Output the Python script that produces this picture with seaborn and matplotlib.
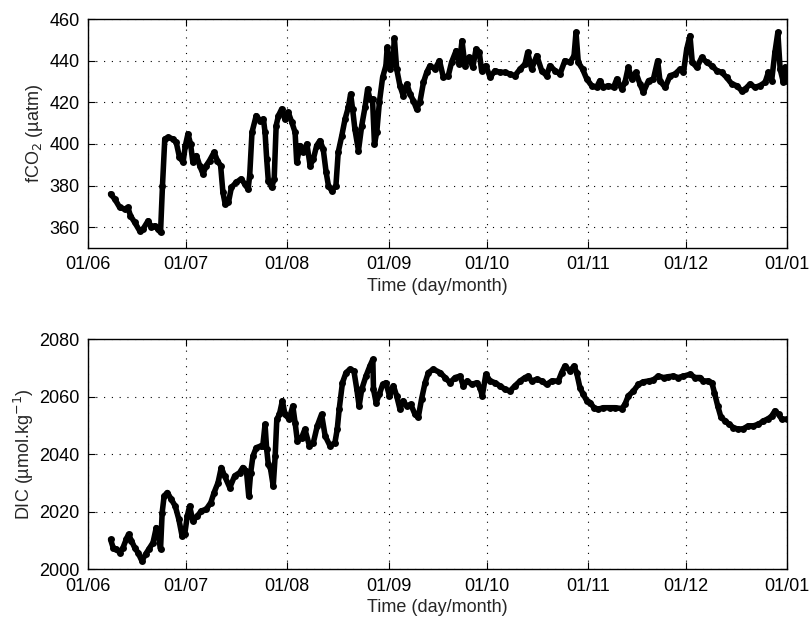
import numpy as np
import pandas as pd
import matplotlib
matplotlib.use("Agg")
import matplotlib.pyplot as plt
import matplotlib.dates as mdates
import seaborn as sns

# days since 1 June
fco2_days = [6.9, 8.2, 9.7, 11.2, 12.2, 13.0, 14.3, 15.8, 16.8, 18.4, 19.4, 20.4, 21.4, 22.2,
             22.8, 23.5, 24.5, 26.0, 27.0, 28.0, 29.1, 29.8, 30.6, 31.4, 32.1, 33.2, 34.2, 35.2,
             36.2, 37.2, 38.6, 39.6, 40.6, 41.3, 42.0, 43.0, 43.9, 45.4, 46.9, 48.0, 49.0, 49.5,
             50.2, 51.5, 52.7, 53.7, 54.2, 54.7, 55.2, 56.2, 57.0, 57.6, 58.3, 59.3, 60.3, 61.3,
             62.4, 63.4, 63.9, 64.9, 65.9, 67.0, 68.0, 69.0, 70.0, 71.0, 72.0, 72.9, 73.6, 74.6,
             75.9, 76.6, 77.7, 78.7, 79.7, 80.4, 81.0, 81.7, 82.8, 83.8, 84.8, 85.6, 86.3, 87.1,
             87.7, 88.4, 89.2, 90.2, 91.2, 91.6, 92.5, 93.3, 93.8, 94.5, 95.5, 96.5, 97.6, 98.6,
             99.6, 100.6, 101.6, 102.7, 103.7, 104.7, 106.2, 107.6, 108.8, 110.3, 111.3, 112.7,
             113.7, 114.5, 115.4, 116.7, 117.8, 118.8, 119.8, 120.5, 121.8, 123.1, 124.6, 126.1,
             127.7, 129.2, 130.7, 132.3, 133.8, 134.6, 135.8, 137.4, 138.9, 140.4, 141.4, 143.0,
             144.5, 146.0, 147.6, 148.8, 149.4, 150.1, 151.4, 152.7, 154.2, 155.7, 156.7, 157.8,
             159.3, 160.9, 161.9, 163.4, 164.4, 165.4, 166.5, 167.7, 169.0, 170.0, 171.6, 173.1,
             174.4, 175.1, 176.7, 178.2, 179.7, 181.3, 182.3, 183.3, 184.3, 185.0, 186.4, 187.9,
             189.4, 191.0, 192.5, 194.0, 195.5, 197.1, 198.6, 200.1, 201.2, 202.7, 204.2, 205.7,
             207.3, 208.3, 209.3, 210.3, 211.2, 211.9, 212.9, 213.4, 213.9]
fco2_vals = [376.0, 373.5, 369.5, 368.7, 369.5, 365.5, 362.3, 358.3, 359.0, 363.1, 360.0, 360.7, 359.0, 357.5,
             380.0, 402.4, 403.2, 402.4, 400.8, 393.6, 391.2, 399.2, 404.8, 400.0, 391.2, 394.4, 389.6, 385.6,
             389.6, 392.0, 396.0, 392.0, 389.6, 376.7, 371.1, 372.0, 379.1, 381.6, 383.2, 380.7, 378.3, 384.8,
             405.6, 413.6, 411.2, 412.0, 405.6, 392.8, 382.3, 379.1, 383.2, 408.8, 413.6, 416.8, 412.0, 415.2,
             410.4, 405.6, 391.2, 399.2, 396.0, 400.0, 389.6, 392.8, 399.2, 401.6, 397.6, 386.4, 380.0, 377.5,
             380.0, 396.0, 404.0, 412.0, 417.6, 424.0, 416.8, 407.2, 396.8, 408.8, 417.6, 426.4, 421.6, 421.6,
             400.0, 405.6, 420.0, 432.0, 437.6, 446.4, 436.0, 439.2, 450.7, 436.0, 428.0, 423.2, 428.8, 424.0,
             420.8, 416.8, 420.0, 429.6, 434.4, 437.6, 436.0, 440.0, 432.0, 432.8, 439.2, 444.8,
             438.4, 449.6, 437.6, 441.6, 436.8, 445.6, 444.0, 435.2, 437.6, 432.0, 435.2, 434.4,
             434.4, 433.6, 432.8, 436.0, 438.4, 444.0, 436.0, 442.4, 435.2, 432.8, 437.6, 435.2,
             433.6, 440.0, 439.2, 442.4, 453.6, 439.2, 436.0, 431.2, 428.0, 427.2, 430.4, 427.2,
             428.0, 427.2, 431.2, 426.4, 429.6, 436.8, 431.2, 434.4, 428.8, 424.8, 430.4, 431.2,
             440.0, 430.4, 427.2, 432.8, 433.6, 436.0, 434.4, 445.6, 452.0, 439.2, 436.8, 441.6,
             439.2, 437.6, 435.2, 434.4, 432.0, 428.8, 428.0, 425.6, 426.4, 428.8, 427.2, 428.0,
             429.6, 434.4, 430.4, 444.0, 453.6, 436.0, 429.6, 436.8, 430.4]

dic_days = [6.9, 7.7, 8.7, 9.7, 10.7, 11.7, 12.4, 13.3, 14.3, 15.3, 16.5, 17.6, 18.6, 19.9, 20.9,
            21.6, 22.2, 22.7, 23.3, 24.3, 25.5, 26.7, 27.8, 28.8, 29.6, 30.4, 31.1, 32.1, 33.5,
            34.7, 36.2, 37.6, 38.6, 39.8, 40.8, 41.8, 43.4, 44.9, 46.4, 47.4, 48.5, 49.2, 49.8,
            50.5, 51.5, 52.9, 53.5, 54.2, 54.7, 55.2, 55.9, 56.7, 57.3, 57.8, 58.6, 59.5, 60.3,
            61.6, 62.7, 63.4, 64.1, 65.4, 66.4, 67.8, 69.0, 70.2, 71.5, 72.6, 74.1, 75.6, 76.3,
            76.9, 77.9, 79.0, 80.2, 81.4, 82.3, 83.0, 83.8, 85.1, 86.3, 87.2, 87.4, 88.2, 89.2,
            90.2, 91.2, 92.3, 93.5, 94.5, 95.5, 96.5, 97.6, 98.8, 100.1, 101.1, 102.1, 103.2,
            104.2, 105.7, 107.8, 109.3, 110.8, 112.4, 113.9, 114.9, 116.1, 117.5, 119.0, 120.0,
            120.7, 121.8, 123.1, 124.6, 126.1, 127.7, 129.2, 130.7, 132.3, 133.8, 134.8, 135.8,
            137.4, 138.9, 140.4, 142.0, 144.0, 145.0, 146.0, 147.6, 148.8, 149.6, 150.6, 151.6,
            152.7, 153.7, 154.9, 156.2, 157.8, 159.8, 161.4, 163.4, 164.4, 165.4, 167.0, 168.5,
            170.0, 171.6, 173.1, 174.6, 176.2, 177.7, 179.2, 180.7, 182.3, 184.3, 185.9, 187.4,
            188.4, 189.9, 191.0, 191.8, 192.8, 193.8, 195.1, 196.3, 197.6, 199.1, 200.6, 202.2,
            203.7, 205.2, 206.8, 208.3, 209.3, 210.3, 211.4, 212.4, 213.9]
dic_vals = [2010.4, 2007.5, 2007.0, 2005.8, 2007.5, 2010.4, 2012.2, 2009.9, 2007.5, 2005.8, 2002.9, 2005.2, 2007.0, 2009.3, 2014.5,
            2011.6, 2007.0, 2019.7, 2025.5, 2026.7, 2024.3, 2022.0, 2017.4, 2011.6, 2012.2, 2018.6, 2022.0, 2016.8, 2018.6,
            2020.3, 2020.9, 2023.2, 2026.7, 2030.1, 2035.4, 2032.5, 2028.4, 2032.5, 2033.6, 2035.4, 2034.2, 2025.5, 2033.6,
            2039.4, 2042.3, 2042.9, 2042.9, 2050.4, 2041.7, 2036.5, 2034.8, 2029.0, 2039.4, 2052.2, 2053.9, 2058.6, 2053.9,
            2052.2, 2056.8, 2051.0, 2044.6, 2045.8, 2048.7, 2042.9, 2044.1, 2049.9, 2053.9, 2046.4, 2042.9, 2044.1, 2048.7,
            2055.7, 2064.9, 2068.4, 2069.6, 2069.0, 2062.6, 2056.8, 2062.6, 2067.2, 2070.7, 2073.0, 2062.6, 2058.0, 2060.9,
            2064.3, 2064.9, 2060.3, 2063.8, 2060.3, 2055.7, 2058.6, 2056.8, 2057.4, 2053.9, 2052.8, 2059.1, 2064.9,
            2068.4, 2069.6, 2068.4, 2066.7, 2064.9, 2066.7, 2067.2, 2063.8, 2065.5, 2064.3, 2064.9, 2063.2,
            2060.3, 2067.8, 2065.5, 2064.9, 2063.8, 2062.6, 2062.0, 2063.8, 2065.5, 2066.7, 2067.2, 2065.5,
            2066.1, 2065.5, 2064.3, 2065.5, 2065.5, 2068.4, 2070.7, 2069.0, 2070.7, 2068.4, 2063.2, 2060.9,
            2058.6, 2058.0, 2056.2, 2055.7, 2056.2, 2056.2, 2056.2, 2055.9, 2057.4, 2060.3, 2062.0, 2064.3,
            2065.2, 2065.5, 2065.9, 2067.2, 2066.7, 2067.0, 2067.2, 2066.7, 2067.2, 2067.8, 2066.7, 2066.7,
            2065.5, 2065.5, 2064.9, 2061.4, 2056.8, 2052.8, 2051.6, 2050.4, 2049.3, 2048.7, 2048.9, 2049.9,
            2049.9, 2050.4, 2051.6, 2052.4, 2053.3, 2055.1, 2053.9, 2052.2, 2052.2]

month_ticks = ["2010-06-01", "2010-07-01", "2010-08-01", "2010-09-01", "2010-10-01",
               "2010-11-01", "2010-12-01", "2011-01-01"]
fco2_yticks = [360, 380, 400, 420, 440, 460]
dic_yticks = [2000, 2020, 2040, 2060, 2080]

origin = pd.Timestamp("2010-06-01")
df_f = pd.DataFrame({"t": origin + pd.to_timedelta(fco2_days, unit="D"), "v": fco2_vals})
df_d = pd.DataFrame({"t": origin + pd.to_timedelta(dic_days, unit="D"), "v": dic_vals})

sns.set_theme(style="ticks")
plt.rcParams["font.family"] = ["Liberation Sans", "DejaVu Sans"]

fig = plt.figure(figsize=(8.09, 6.17), dpi=100)
ax1 = fig.add_axes([0.1088, 0.598, 0.864, 0.3711])
ax2 = fig.add_axes([0.1088, 0.0773, 0.864, 0.3728])

ticks = pd.to_datetime(month_ticks)
for ax, df, yl, yt, lab, lx in [(ax1, df_f, (350, 460), fco2_yticks, "fCO$_2$ (µatm)", -0.062),
                                 (ax2, df_d, (2000, 2080), dic_yticks, "DIC (µmol.kg$^{-1}$)", -0.074)]:
    sns.lineplot(data=df, x="t", y="v", ax=ax, color="black", linewidth=4.0,
                 marker="o", markersize=5, markeredgewidth=0, estimator=None, sort=False)
    ax.set_xlim(ticks[0], ticks[-1])
    ax.set_ylim(*yl)
    ax.set_yticks(yt)
    ax.set_xticks(ticks)
    ax.xaxis.set_major_formatter(mdates.DateFormatter("%d/%m"))
    ax.grid(True, linestyle=(0, (1, 6)), color="black", linewidth=0.8)
    ax.tick_params(direction="in", length=5, width=0.8, labelsize=13, top=True, right=True,
                   colors="black", pad=6)
    for s in ax.spines.values():
        s.set_visible(True)
        s.set_linewidth(1.0)
        s.set_color("black")
    ax.set_xlabel("Time (day/month)", fontsize=13, labelpad=3)
    ax.set_ylabel(lab, fontsize=13)
    ax.yaxis.set_label_coords(lx, 0.5)

fig.savefig("out.png", dpi=100)
